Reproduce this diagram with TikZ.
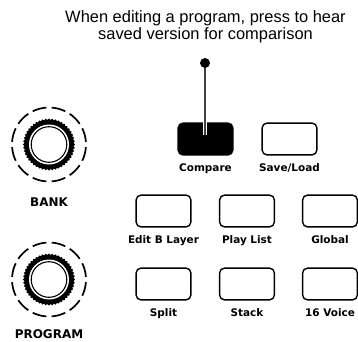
\documentclass[tikz,border=0pt]{standalone}
\usepackage{fontspec}
\setmainfont{Liberation Sans}
\newfontfamily\panelfont{DejaVu Sans}
\usetikzlibrary{positioning}
\tikzset{
  panelbtn/.style={draw, line width=1.4pt, rounded corners=5pt, minimum width=55pt, minimum height=32pt, inner sep=0pt},
  btnlabel/.style={font=\panelfont\bfseries\fontsize{10.5}{12}\selectfont, inner sep=0pt},
  knoblabel/.style={font=\panelfont\bfseries\fontsize{12}{14}\selectfont, inner sep=0pt, anchor=base},
}
\begin{document}
\begin{tikzpicture}[x=1bp,y=-1bp]
        \useasboundingbox[fill=white] (0,0) rectangle (358,342);
        %% knobs
        \foreach \kx/\ky in {49/144.5, 49/279.5} {
          \begin{scope}[shift={(\kx,\ky)}]
            \foreach \a in {0,30,...,330}
              \draw[line width=1.7] ({\a+4}:37) arc[start angle=\a+4, end angle=\a+26, radius=37];
            \fill (0:26) \foreach \a in {0,7.5,...,352.5} { -- (\a:26) -- ({\a+3.75}:24.6) } -- cycle;
            \fill[white] (0,0) circle (20);
            \draw[line width=1.1] (0,0) circle (17.8);
          \end{scope}
        }
        \node[knoblabel] (bank) at (49,206) {BANK};
        \node[knoblabel] (program) at (49,338) {PROGRAM};
        %% buttons
        \node[panelbtn, fill=black] (compare) at (205.5,139) {};
        \node[panelbtn] (saveload) at (289.5,139) {};
        \node[panelbtn] (editb) at (163.5,211) {};
        \node[panelbtn] (playlist) at (247,211) {};
        \node[panelbtn] (global) at (330,211) {};
        \node[panelbtn] (split) at (163.5,284) {};
        \node[panelbtn] (stack) at (247,284) {};
        \node[panelbtn] (voice) at (330,284) {};
        %% button labels
        \node[btnlabel, below=16pt of compare, anchor=base] (comparelbl) {Compare};
        \node[btnlabel, below=16pt of saveload, anchor=base] (saveloadlbl) {Save/Load};
        \node[btnlabel, below=16pt of editb, anchor=base] (editblbl) {Edit B Layer};
        \node[btnlabel, below=16pt of playlist, anchor=base] (playlistlbl) {Play List};
        \node[btnlabel, below=16pt of global, anchor=base] (globallbl) {Global};
        \node[btnlabel, below=16pt of split, anchor=base] (splitlbl) {Split};
        \node[btnlabel, below=16pt of stack, anchor=base] (stacklbl) {Stack};
        \node[btnlabel, below=16pt of voice, anchor=base] (voicelbl) {16 Voice};
        %% callout
        \node[align=center, font=\fontsize{16.5}{16.5}\selectfont, inner sep=0pt, anchor=base] (note) at (205.5,39) {When editing a program, press to hear\\saved version for comparison};
        \coordinate (dotc) at (205,63);
        \coordinate (tip) at (205,135);
        \draw[white, line width=3.6] (dotc) -- (tip);
        \draw[black!75, line width=1.3] (dotc) -- (tip);
        \node[circle, fill=black, inner sep=0pt, minimum size=10pt] (dot) at (dotc) {};
\end{tikzpicture}
\end{document}
